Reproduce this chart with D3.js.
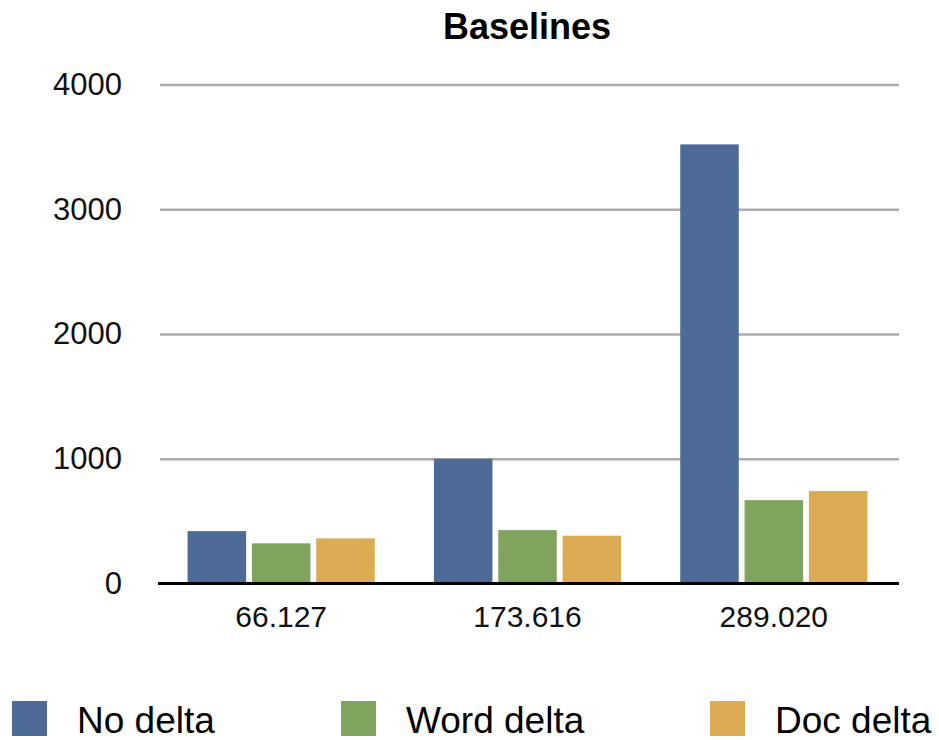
<!DOCTYPE html>
<html>
<head>
<meta charset="utf-8">
<script src="https://cdn.jsdelivr.net/npm/d3@7"></script>
<style>
  html, body { margin: 0; padding: 0; background: #fff; }
  svg { display: block; font-family: "Liberation Sans", Arial, Helvetica, sans-serif; }
</style>
</head>
<body>
<svg id="chart" width="939" height="740"></svg>
<script>
// Benchmark sizes on the x axis
const categories = ["66.127", "173.616", "289.020"];

// Series values per size
const noDelta   = [420, 1000, 3520];
const wordDelta = [322, 428, 668];
const docDelta  = [362, 383, 742];

const seriesNames = ["No delta", "Word delta", "Doc delta"];
const seriesValues = [noDelta, wordDelta, docDelta];
const seriesColors = ["#4e6b98", "#80a35d", "#ddab54"];

const yTicks = [0, 1000, 2000, 3000, 4000];

const svg = d3.select("#chart");
const plotLeft = 160, plotRight = 899, plotTop = 84.5, plotBottom = 583.5;

const x0 = d3.scaleBand().domain(categories).range([158, 897])
  .paddingInner(0.24).paddingOuter(0.12);
const x1 = d3.scaleBand().domain(seriesNames).range([0, x0.bandwidth()])
  .paddingInner(0.09);
const y = d3.scaleLinear().domain([0, 4000]).range([plotBottom, plotTop]);

// Title
svg.append("text")
  .attr("x", 527).attr("y", 39)
  .attr("text-anchor", "middle")
  .attr("font-size", 36).attr("font-weight", "bold")
  .attr("fill", "#000")
  .text("Baselines");

// Horizontal gridlines and y tick labels
const yAxis = d3.axisLeft(y).tickValues(yTicks).tickSize(-(plotRight - plotLeft)).tickPadding(38)
  .tickFormat(d3.format("d"));
const gy = svg.append("g").attr("transform", `translate(${plotLeft},0)`).call(yAxis);
gy.select(".domain").remove();
gy.selectAll(".tick line").attr("stroke", "#ababab").attr("stroke-width", 2.5);
gy.selectAll(".tick text")
  .attr("font-size", 31).attr("fill", "#111")
  .attr("font-family", "'Liberation Sans', Arial, sans-serif");
gy.selectAll(".tick").filter(d => d === 0).select("line").remove();

// Bars
const data = [];
categories.forEach((c, i) => {
  seriesNames.forEach((s, j) => data.push({ cat: c, series: s, value: seriesValues[j][i], color: seriesColors[j] }));
});
svg.append("g").selectAll("rect").data(data).join("rect")
  .attr("x", d => x0(d.cat) + x1(d.series))
  .attr("y", d => y(d.value))
  .attr("width", x1.bandwidth())
  .attr("height", d => y(0) - y(d.value))
  .attr("fill", d => d.color);

// Baseline axis with category labels
const xAxis = d3.axisBottom(x0).tickSize(0).tickPadding(22);
const gx = svg.append("g").attr("transform", `translate(0,${plotBottom})`).call(xAxis);
gx.select(".domain").attr("d", `M158,0H${plotRight}`).attr("stroke", "#000").attr("stroke-width", 3);
gx.selectAll(".tick text")
  .attr("font-size", 30).attr("fill", "#111")
  .attr("font-family", "'Liberation Sans', Arial, sans-serif");

// Legend
const legendX = [12, 341, 710];
const lg = svg.append("g").selectAll("g").data(seriesNames).join("g")
  .attr("transform", (d, i) => `translate(${legendX[i]},701)`);
lg.append("rect").attr("width", 35).attr("height", 35)
  .attr("fill", (d, i) => seriesColors[i]);
lg.append("text").attr("x", 65).attr("y", 32)
  .attr("font-size", 37).attr("fill", "#000")
  .text(d => d);
</script>
</body>
</html>
